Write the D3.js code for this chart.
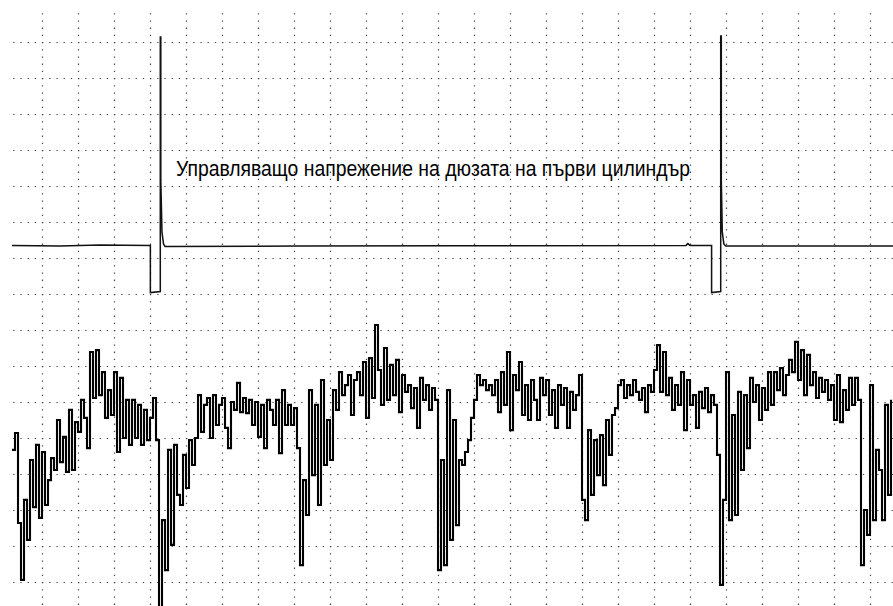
<!DOCTYPE html>
<html>
<head>
<meta charset="utf-8">
<script src="https://cdn.jsdelivr.net/npm/d3@7"></script>
<style>
  body { margin: 0; background: #fff; }
  svg { display: block; }
</style>
</head>
<body>
<script>
// scope screen, values in divisions (time: x div, voltage: y div)
var label = "Управляващо напрежение на дюзата на първи цилиндър";

var xDivs = d3.range(0, 24);   // vertical grid lines
var yDivs = d3.range(0, 16);   // horizontal grid lines

// channel A: injector control voltage (breakpoints)
var chATime  = [-0.833, 0.5, 1.61, 3.01, 3.01, 3.286, 3.286, 3.30, 3.30, 3.333, 3.375, 3.417,
                7.17, 11.33, 17.89, 17.94, 18.0, 18.60, 18.60, 18.853, 18.853, 18.87, 18.87, 18.897, 18.94, 18.99, 23.64];
var chAVolts = [9.35, 9.33, 9.36, 9.35, 8.04, 8.07, 15.14, 15.14, 11.17, 9.72, 9.39, 9.32,
                9.33, 9.34, 9.35, 9.40, 9.35, 9.35, 8.04, 8.07, 15.17, 15.17, 11.17, 9.72, 9.39, 9.33, 9.33];

// channel B: sampled signal, 1/12 div per sample
var chBStart = -0.8333;
var chBStep  = 1 / 12;
var chBVolts = [
  3.67, 4.14, 1.64, 0.06, 2.28, 1.17, 3.39, 2.08, 3.81, 1.78,
  3.61, 2.14, 2.83, 3.44, 3.11, 4.5, 3.33, 4.03, 3.06, 4.78,
  3.11, 4.44, 4.17, 5.06, 4.56, 3.72, 6.39, 5.11, 6.44, 5.19,
  5.83, 4.56, 5.33, 4.64, 5.83, 3.61, 5.67, 4.0, 5.06, 3.81,
  5.06, 4.0, 4.92, 3.81, 4.78, 3.94, 4.56, 5.11, 3.94, -0.7,
  1.72, 0.33, 3.67, 1.03, 3.81, 2.42,
  2.14, 3.53, 2.61, 3.94, 3.25, 4.0, 5.19, 4.17, 4.92, 5.11,
  4.0, 5.19, 4.36, 4.92, 5.11, 4.28, 3.72, 5.0, 4.78, 5.53,
  4.72, 5.11, 4.69, 5.06, 4.36, 5.0, 4.03, 4.92, 3.72, 5.06,
  4.78, 4.36, 5.06, 3.58, 5.33, 4.36, 4.92, 4.36, 4.83, 3.72,
  0.47, 2.83, 1.86, 5.33, 2.97, 4.92, 2.14, 5.61, 3.25, 4.5,
  3.39, 5.33, 4.78, 5.83, 5.19, 5.47, 5.75, 4.64, 5.61, 5.83,
  5.19, 6.11, 4.56, 6.22, 5.11, 7.14, 5.89, 4.92, 6.5, 5.06,
  6.03, 5.19, 6.17, 4.72, 5.75, 5.28, 5.47, 4.83, 5.39, 4.28,
  5.67, 5.06, 5.47, 4.78, 5.39, 5.06, 0.33, 3.39, 0.47, 5.33,
  1.17, 4.5, 1.58, 3.39, 3.25, 3.61, 3.94, 4.56, 5.06, 5.75,
  5.47, 5.61, 5.33, 5.47, 5.19, 5.61, 4.72, 5.83, 4.92, 6.39,
  4.22, 5.75, 5.33, 6.11, 4.64, 5.47, 4.5, 5.61, 5.06,
  4.5, 5.67, 5.19, 5.61, 4.64, 5.33, 4.28, 5.47, 4.92, 5.39,
  4.28, 5.28, 4.78, 5.19, 5.75, 2.28, 1.72, 4.22, 2.42, 3.94,
  2.97, 4.08, 2.69, 4.5, 3.53, 4.64, 4.83, 5.47, 5.61, 5.11,
  5.47, 5.19, 5.61, 5.28, 5.06, 5.39, 4.72, 5.47, 5.28, 5.89,
  6.58, 5.28, 6.39, 5.19, 5.67, 4.78, 5.47, 4.92, 5.83, 4.22,
  5.61, 4.92, 5.19, 4.28, 5.28, 4.83, 5.39, 4.72, 5.19,
  4.92, 3.53, -0.08, 2.28, 5.83, 1.72, 4.64, 1.86, 5.28, 3.11,
  5.19, 3.72, 5.67, 5.0, 5.47, 4.5, 5.39, 4.78, 5.83, 4.92,
  5.83, 5.33, 5.94, 5.19, 5.75, 6.17, 5.83, 6.67, 5.61, 6.44,
  5.19, 6.31, 5.47, 5.83, 5.11, 5.67, 5.28, 5.61, 5.06, 5.47,
  4.5, 5.75, 4.44, 5.33, 4.78, 5.67, 4.92, 5.67, 5.06, 0.47,
  2.0, 1.31, 5.47, 1.72, 3.67, 3.11, 1.72, 4.92, 2.42, 5.06
];

var width = 893, height = 606;
var gridStart = 13.2;

var svg = d3.select("body").append("svg")
            .attr("width", width)
            .attr("height", height);

var x = d3.scaleLinear().domain([0, 23]).range([42, 870]);
var y = d3.scaleLinear().domain([0, 15]).range([582, 42]);

// dotted grid
svg.append("g")
   .attr("transform", "translate(0," + gridStart + ")")
   .call(d3.axisTop(x).tickValues(xDivs).tickSize(-(height - gridStart)).tickFormat(""))
   .call(function(g) { g.select(".domain").remove(); });

svg.append("g")
   .attr("transform", "translate(" + gridStart + ",0)")
   .call(d3.axisLeft(y).tickValues(yDivs).tickSize(-(width - gridStart)).tickFormat(""))
   .call(function(g) { g.select(".domain").remove(); });

svg.selectAll(".tick line")
   .attr("stroke", "#444")
   .attr("stroke-width", 1.2)
   .attr("stroke-dasharray", "1.3,5.9");

// traces
var line = d3.line().x(function(d) { return x(d[0]); })
                    .y(function(d) { return y(d[1]); });

svg.append("path")
   .datum(d3.zip(chATime, chAVolts))
   .attr("d", line)
   .attr("fill", "none")
   .attr("stroke", "#111")
   .attr("stroke-width", 1.5);

var chB = chBVolts.map(function(v, i) { return [chBStart + i * chBStep, v]; });

svg.append("path")
   .datum(chB)
   .attr("d", line.curve(d3.curveStepAfter))
   .attr("fill", "none")
   .attr("stroke", "#000")
   .attr("stroke-width", 2.1);

svg.append("text")
   .attr("x", 176)
   .attr("y", 176)
   .attr("font-family", "'Liberation Sans', Arial, sans-serif")
   .attr("font-size", 22)
   .attr("textLength", 514)
   .attr("lengthAdjust", "spacingAndGlyphs")
   .attr("fill", "#000")
   .text(label);
</script>
</body>
</html>
